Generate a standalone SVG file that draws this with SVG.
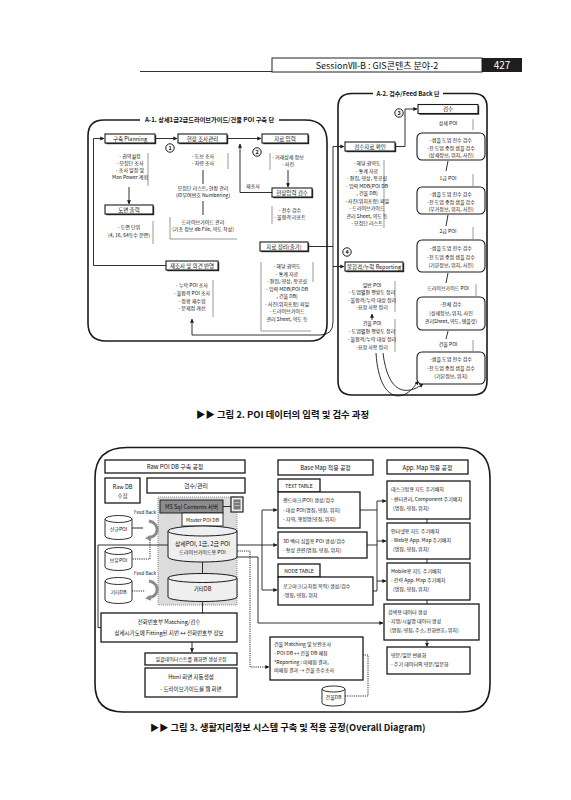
<svg xmlns="http://www.w3.org/2000/svg" width="571" height="800" viewBox="0 0 571 800">
<defs>
<style>
text{font-family:"Noto Sans CJK KR","Noto Sans",sans-serif;fill:#111}
.s45{font-size:4.6px}
.s5{font-size:5px}
.s55{font-size:5.5px}
.s6{font-size:5.9px}
.m{text-anchor:middle}
.b{font-weight:bold}
.w{fill:#fff}
.ln{fill:none;stroke:#1a1a1a;stroke-width:0.9}
.dt{fill:none;stroke:#1a1a1a;stroke-width:0.9;stroke-dasharray:1.2 1}
.br{fill:none;stroke:#555;stroke-width:0.6}
.bx{fill:#fff;stroke:#1a1a1a;stroke-width:1.1}
.bb{fill:#fff;stroke:#1a1a1a;stroke-width:1.3}
.rb{fill:#fff;stroke:#1a1a1a;stroke-width:1.1}
.sh{fill:#2a2a2a}
.fr{fill:none;stroke:#1a1a1a;stroke-width:1.6}
.cyl{fill:#fff;stroke:#1a1a1a;stroke-width:0.9}
.ci{fill:#fff;stroke:#1a1a1a;stroke-width:1}
.ga{fill:none;stroke:#8a8a8a;stroke-width:3}
</style>
<marker id="ar" viewBox="0 0 6 6" refX="5.5" refY="3" markerWidth="4.5" markerHeight="4.5" orient="auto"><path d="M0,0 L6,3 L0,6 z" fill="#1a1a1a"/></marker>
<marker id="gar" viewBox="0 0 6 6" refX="3" refY="3" markerWidth="2" markerHeight="2" orient="auto"><path d="M0,0 L6,3 L0,6 z" fill="#8a8a8a"/></marker>
</defs>
<rect width="571" height="800" fill="#fff"/>

<g id="header">
<line x1="140" y1="71.5" x2="272" y2="71.5" stroke="#333" stroke-width="1"/>
<rect x="272" y="58" width="210" height="14" fill="#fff" stroke="#222" stroke-width="1"/>
<text x="377" y="68.5" class="m" font-size="9">SessionⅦ-B : GIS콘텐츠 분야-2</text>
<rect x="482" y="58" width="40" height="14" fill="#1e1e1e"/>
<text x="502" y="69" class="m w" font-size="10">427</text>
</g>

<!-- Figure 2 -->
<g id="frame-a1">
<path class="fr" d="M279,120 H305 Q327,120 327,142 V324 Q327,341 310,341 H106 Q88,341 88,323 V136 Q88,120 104,120 H140"/>
<text x="209.5" y="122.3" class="m b" font-size="6.2">A-1. 상세1급2급드라이브가이드/건물 POI 구축 단</text>
</g>
<g id="frame-a2">
<path class="fr" d="M443,93.5 H473 Q487,93.5 487,107 V381 Q487,395 473,395 H352 Q338,395 338,381 V107 Q338,93.5 352,93.5 H373"/>
<text x="408" y="96" class="m b" font-size="6">A-2. 검수/Feed Back 단</text>
</g>

<g id="connectors-fig2">
<path class="ln" d="M166,265.5 H93.5 V138.5 H104" marker-end="url(#ar)"/>
<path class="ln" d="M155,138.5 H177" marker-end="url(#ar)"/>
<path class="ln" d="M227,138.5 H261" marker-end="url(#ar)"/>
<path class="ln" d="M129,187 V204" marker-end="url(#ar)"/>
<path class="ln" d="M203,170 V184"/>
<path class="ln" d="M203,201 V215"/>
<path class="ln" d="M288,170 V187" marker-end="url(#ar)"/>
<path class="ln" d="M272,192.5 H240 V144" marker-end="url(#ar)"/>
<path class="ln" d="M308,246.5 H333"/>
<path class="ln" d="M333,146.5 V322 Q333,335 320,335 H192 V319" marker-end="url(#ar)"/>
<path class="ln" d="M333,146.5 H344" marker-end="url(#ar)"/>
<path class="ln" d="M333,266.5 H344" marker-end="url(#ar)"/>
<path class="ln" d="M395,146.5 H405 V109 H417" marker-end="url(#ar)"/>
<path class="ln" d="M372,320 V314" marker-end="url(#ar)"/>
<path class="ln" d="M376,353 C379,403 404,405 418,381" marker-end="url(#ar)"/>
<path class="ln" d="M383,353 C388,394 406,396 423,384" marker-end="url(#ar)"/>
<path class="ln" d="M448,161 L446,171"/>
<path class="ln" d="M448,215 L446,226"/>
<path class="ln" d="M448,273 L446,283"/>
<path class="ln" d="M448,331 L446,339"/>
</g>

<g id="brackets-fig2">
<path class="br" d="M148,153 V186"/>
<path class="br" d="M153,221 V244"/>
<path class="br" d="M228,153 V169"/>
<path class="br" d="M170,217 V239 H237"/>
<path class="br" d="M270,153 V170"/>
<path class="br" d="M272,206 V224"/>
<path class="br" d="M261,262 V331 H311"/>
<path class="br" d="M313,262 V282"/>
<path class="br" d="M213,280 V317"/>
<path class="br" d="M384,160 V228"/>
<path class="br" d="M395,281 V312"/>
<path class="br" d="M395,319 V352"/>
<path class="br" d="M473,119 V130"/>
<path class="br" d="M473,174 V186"/>
<path class="br" d="M473,227 V239"/>
<path class="br" d="M476,284 V296"/>
<path class="br" d="M473,340 V351"/>
</g>

<g id="n-planning"><rect class="sh" x="106.2" y="135.2" width="50" height="9"/><rect class="bx" x="105" y="134" width="50" height="9"/><text class="s55 m" x="130" y="140.6">구축 Planning</text></g>
<g id="t-planning"><text class="s5 m" x="130" y="158">- 권역설정</text><text class="s5 m" x="130" y="165">- 모집단 조사</text><text class="s5 m" x="130" y="172">- 조사 일정 및</text><text class="s5 m" x="130" y="179">Man Power 계획</text></g>
<g id="n-map"><rect class="sh" x="106.2" y="206.2" width="48" height="9"/><rect class="bx" x="105" y="205" width="48" height="9"/><text class="s55 m" x="129" y="211.6">도면 출력</text></g>
<g id="t-map"><text class="s5 m" x="129" y="229">- 도면 단위</text><text class="s5 m" x="129" y="237">(4, 16, 64등수 분면)</text></g>
<g id="n-survey"><rect class="sh" x="179.2" y="135.2" width="49" height="9"/><rect class="bx" x="178" y="134" width="49" height="9"/><text class="s55 m" x="202.5" y="140.6">현장 조사관리</text></g>
<g id="t-survey"><text class="s5 m" x="203" y="158">- 도보 조사</text><text class="s5 m" x="203" y="165">- 차량 조사</text><text class="s5 m" x="203" y="190">모집단 리스트, 현장 관리</text><text class="s5 m" x="203" y="197">(ID부여번호 Numbering)</text><text class="s5 m" x="203" y="224">드라이브가이드 관리</text><text class="s5 m" x="203" y="231">(기초 정보 db File, 약도 작성)</text></g>
<g id="n-input"><rect class="sh" x="263.2" y="135.2" width="46" height="9"/><rect class="bx" x="262" y="134" width="46" height="9"/><text class="s55 m" x="285" y="140.6">자료 입력</text></g>
<g id="t-input"><text class="s5 m" x="288" y="159">- 거래상세 정보</text><text class="s5 m" x="288" y="166">- 사진</text></g>
<g id="n-check"><rect class="sh" x="273.2" y="189.2" width="40" height="9"/><rect class="bx" x="272" y="188" width="40" height="9"/><text class="s55 m" x="292" y="194.6">현장입력 검수</text></g>
<text class="s5 m" x="253" y="188">재조사</text>
<g id="t-check"><text class="s5 m" x="290" y="212">- 전수 검수</text><text class="s5 m" x="290" y="219">- 불합격 리포트</text></g>
<g id="n-arrange"><rect class="sh" x="261.2" y="243.2" width="48" height="9"/><rect class="bx" x="260" y="242" width="48" height="9"/><text class="s55 m" x="284" y="248.6">자료 정리(출가)</text></g>
<g id="t-arrange"><text class="s5 m" x="287" y="268">- 해당 권역도</text><text class="s5 m" x="287" y="275.5">- 통계 자료</text><text class="s5 m" x="287" y="283">- 편집, 영상, 항공샷</text><text class="s5 m" x="287" y="290.5">- 입력 MDB(POI DB</text><text class="s5 m" x="287" y="298">, 건물 DB)</text><text class="s5 m" x="287" y="305.5">- 사진(위치포함) 파일</text><text class="s5 m" x="287" y="313">- 드라이브가이드</text><text class="s5 m" x="287" y="320.5">관리 Sheet, 약도 등</text></g>
<g id="n-resurvey"><rect class="sh" x="167.2" y="262.2" width="52" height="9"/><rect class="bx" x="166" y="261" width="52" height="9"/><text class="s55 m" x="192" y="267.6">재조사 및 의견 반영</text></g>
<g id="t-resurvey"><text class="s5 m" x="192" y="287">- 누락 POI 조사</text><text class="s5 m" x="192" y="295">- 불합격 POI 조사</text><text class="s5 m" x="192" y="303">- 정확 재수립</text><text class="s5 m" x="192" y="310">- 문제점 개선</text></g>

<g id="c1"><circle class="ci" cx="170" cy="148" r="4.2"/><text class="s55 m b" x="170" y="150">1</text></g>
<g id="c2"><circle class="ci" cx="257" cy="152" r="4.2"/><text class="s55 m b" x="257" y="154">2</text></g>
<g id="c3"><circle class="ci" cx="399" cy="113" r="4.2"/><text class="s55 m b" x="399" y="115">3</text></g>
<g id="c4"><circle class="ci" cx="347" cy="252" r="4.2"/><text class="s55 m b" x="347" y="254">4</text></g>

<g id="n-review"><rect class="sh" x="346.2" y="143.2" width="50" height="9"/><rect class="bx" x="345" y="142" width="50" height="9"/><text class="s55 m" x="370" y="148.6">검수자료 확인</text></g>
<g id="t-review"><text class="s5 m" x="367" y="165">- 해당 권역도</text><text class="s5 m" x="367" y="172.5">- 통계 자료</text><text class="s5 m" x="367" y="180">- 편집, 영상, 항공샷</text><text class="s5 m" x="367" y="187.5">- 입력 MDB(POI DB</text><text class="s5 m" x="367" y="195">, 건물 DB)</text><text class="s5 m" x="367" y="202.5">- 사진(위치포함) 파일</text><text class="s5 m" x="367" y="210">- 드라이브가이드</text><text class="s5 m" x="367" y="217.5">관리 Sheet, 약도 등</text><text class="s5 m" x="367" y="225">- 모집단 리스트</text></g>
<g id="n-inspect"><rect class="sh" x="419.2" y="105.7" width="60" height="9"/><rect class="bx" x="418" y="104.5" width="60" height="9"/><text class="s55 m" x="448" y="111.1">검수</text></g>
<g id="n-report"><rect class="sh" x="346.2" y="263.2" width="58" height="9"/><rect class="bx" x="345" y="262" width="58" height="9"/><text class="s55 m" x="374" y="268.6">불합격/누락 Reporting</text></g>
<g id="t-report"><text class="s5 m" x="372" y="287">일반 POI</text><text class="s5 m" x="372" y="294">- 도엽별편 평방도 정리</text><text class="s5 m" x="372" y="301.5">- 불합격/누락 대상 정리</text><text class="s5 m" x="372" y="309">-요청 사항 정리</text><text class="s5 m" x="372" y="325">건물 POI</text><text class="s5 m" x="372" y="333">- 도엽별편 평방도 정리</text><text class="s5 m" x="372" y="341">- 불합격/누락 대상 정리</text><text class="s5 m" x="372" y="349">-요청 사항 정리</text></g>

<g id="r-detail"><text class="s5 m" x="448" y="124.5">상세 POI</text><rect class="rb" x="417" y="133" width="68" height="27" rx="5"/><text class="s5 m" x="451" y="142">-샘플 도엽 전수 검수</text><text class="s5 m" x="451" y="149.5">-전 도엽 중점 샘플 검수</text><text class="s5 m" x="451" y="157">(상세정보, 위치, 사진)</text></g>
<g id="r-1"><text class="s5 m" x="448" y="180">1급 POI</text><rect class="rb" x="417" y="187" width="68" height="27" rx="5"/><text class="s5 m" x="451" y="196">-샘플 도엽 전수 검수</text><text class="s5 m" x="451" y="203.5">-전 도엽 중점 샘플 검수</text><text class="s5 m" x="451" y="211">(부가정보, 위치, 사진)</text></g>
<g id="r-2"><text class="s5 m" x="448" y="233">2급 POI</text><rect class="rb" x="417" y="240" width="68" height="32" rx="5"/><text class="s5 m" x="451" y="250">-샘플 도엽 전수 검수</text><text class="s5 m" x="451" y="258.5">-전 도엽 중점 샘플 검수</text><text class="s5 m" x="451" y="267">(기본정보, 위치, 사진)</text></g>
<g id="r-drive"><text class="s5 m" x="448" y="290">드라이브가이드 POI</text><rect class="rb" x="417" y="297" width="68" height="33" rx="5"/><text class="s5 m" x="451" y="306">-전체 검수</text><text class="s5 m" x="451" y="315">(상세정보, 위치, 사진</text><text class="s5 m" x="451" y="323">관리Sheet, 약도, 템플릿)</text></g>
<g id="r-bldg"><text class="s5 m" x="448" y="345.5">건물 POI</text><rect class="rb" x="417" y="352" width="68" height="32" rx="5"/><text class="s5 m" x="451" y="361">-샘플 도엽 전수 검수</text><text class="s5 m" x="451" y="369.5">-전 도엽 중점 샘플 검수</text><text class="s5 m" x="451" y="378">(기본정보, 위치)</text></g>

<text id="cap2" x="196" y="418" class="b" font-size="9.4">▶▶ 그림 2. POI 데이터의 입력 및 검수 과정</text>

<!-- Figure 3 -->
<g id="frame3"><path class="fr" d="M127,447.5 H460 Q490,447.5 490,478 V684 Q490,712 462,712 H123 Q95,712 95,684 V478 Q95,447.5 127,447.5 Z"/></g>

<g id="gray-area"><rect x="158" y="497" width="79" height="108" fill="#dcdcdc" stroke="#777" stroke-width="0.8" stroke-dasharray="1 1"/></g>

<g id="connectors-fig3">
<path class="ln" d="M98,545 H168"/>
<path class="ln" d="M98,545 V627.5 H101"/>
<path class="ln" d="M223,506.5 H231"/>
<path class="ln" d="M202.5,562 V574"/>
<path class="ln" d="M202.5,601.5 V613"/>
<path class="ln" d="M132,528 H143"/>
<path class="dt" d="M150,540 V559 H132"/>
<path class="dt" d="M132,591 H145"/>
<path class="ln" d="M192,642 V652" marker-end="url(#ar)"/>
<path class="ln" d="M237,545 H277" marker-end="url(#ar)"/>
<path class="ln" d="M262,510 V590"/>
<path class="ln" d="M262,510 H277" marker-end="url(#ar)"/>
<path class="ln" d="M262,590 H277" marker-end="url(#ar)"/>
<path class="ln" d="M233,557 H258 V623 H383" marker-end="url(#ar)"/>
<path class="dt" d="M233,551 H250 V667 H269" marker-end="url(#ar)"/>
<path class="ln" d="M360,510 H377"/>
<path class="ln" d="M367,545 H377"/>
<path class="ln" d="M373,591 H377"/>
<path class="ln" d="M377,501 V591"/>
<path class="ln" d="M377,501 H386" marker-end="url(#ar)"/>
<path class="ln" d="M377,541 H386" marker-end="url(#ar)"/>
<path class="ln" d="M377,581 H386" marker-end="url(#ar)"/>
<path class="ln" d="M427,519 V523"/>
<path class="ln" d="M427,559 V563"/>
<path class="ln" d="M427,600 V604"/>
<path class="ln" d="M427,640 V646.5" marker-end="url(#ar)"/>
<path class="dt" d="M345,696 H368 V655 H363"/>
<path class="ga" d="M149,521 C160,523 160,537 148,538" marker-end="url(#gar)"/>
<path class="ga" d="M149,581 C160,583 160,597 148,598" marker-end="url(#gar)"/>
</g>

<g id="n-rawhead"><rect class="bb" x="105" y="460" width="140" height="13"/><text class="s6 m" x="175" y="468.8">Raw POI DB 구축 공정</text></g>
<g id="n-rawdb"><rect class="bb" x="105" y="478" width="35" height="25"/><text class="s55 m" x="122.5" y="488.5">Raw DB</text><text class="s55 m" x="122.5" y="497.5">수집</text></g>
<g id="n-manage"><rect class="bb" x="147" y="478" width="98" height="15"/><text class="s6 m" x="196" y="487.8">검수/관리</text></g>
<g id="n-mssql"><rect x="160" y="500" width="63" height="13" fill="#8c8c8c" stroke="#222" stroke-width="1"/><text class="s55 m" x="191.5" y="508.5">MS Sql Contents 서버</text></g>
<g id="n-server"><rect x="231" y="497" width="12" height="15" fill="#eee" stroke="#222" stroke-width="1.2"/><rect x="233.5" y="499.5" width="7" height="10" fill="#777"/><line x1="234.5" y1="502.5" x2="239.5" y2="502.5" stroke="#eee" stroke-width="0.6"/><line x1="234.5" y1="505.5" x2="239.5" y2="505.5" stroke="#eee" stroke-width="0.6"/></g>
<g id="n-master"><rect x="182" y="513" width="41" height="13" fill="#fff" stroke="#222" stroke-width="0.9"/><text class="s5 m" x="202.5" y="521.5">Master POI DB</text></g>
<g id="n-maindb"><path d="M168,531 V557 A34.5,5 0 0 0 237,557 V531" fill="#efefef" stroke="#1a1a1a" stroke-width="1"/><ellipse cx="202.5" cy="531" rx="34.5" ry="5" fill="#efefef" stroke="#1a1a1a" stroke-width="1"/><text class="s6 m" x="202.5" y="546">상세POI, 1급, 2급 POI</text><text class="s5 m" x="202.5" y="553.5">드라이브가이드용 POI</text></g>
<g id="n-etcdb"><path d="M168,578 V597 A34.5,4.5 0 0 0 237,597 V578" fill="#efefef" stroke="#1a1a1a" stroke-width="1"/><ellipse cx="202.5" cy="578" rx="34.5" ry="4.5" fill="#efefef" stroke="#1a1a1a" stroke-width="1"/><text class="s55 m" x="202.5" y="591">기타DB</text></g>
<g id="n-new"><path class="cyl" d="M105,519 V536 A13.5,3.5 0 0 0 132,536 V519"/><ellipse class="cyl" cx="118.5" cy="519" rx="13.5" ry="3.5"/><text class="s5 m" x="118.5" y="531">신규POI</text></g>
<g id="n-own"><path class="cyl" d="M105,551 V567 A13.5,3.5 0 0 0 132,567 V551"/><ellipse class="cyl" cx="118.5" cy="551" rx="13.5" ry="3.5"/><text class="s5 m" x="118.5" y="562">보유POI</text></g>
<g id="n-etc2"><path class="cyl" d="M105,581 V600 A13.5,3.5 0 0 0 132,600 V581"/><ellipse class="cyl" cx="118.5" cy="581" rx="13.5" ry="3.5"/><text class="s5 m" x="118.5" y="593.5">기타DB</text></g>
<text class="s45 m" x="145" y="514">Feed Back</text>
<text class="s45 m" x="145" y="575">Feed Back</text>
<g id="n-phone"><rect class="bb" x="101" y="613" width="136" height="29"/><text class="s55 m" x="169" y="623.5">전화번호부 Matching/검수</text><text class="s55 m" x="169" y="635">상세시가도에 Fitting된 지번 ↔ 전화번호부 정보</text></g>
<g id="n-batch"><rect class="bb" x="145" y="653" width="92" height="12"/><text class="s5 m" x="191" y="661.3">일괄데이터스트를 웹화면 생성공정</text></g>
<g id="n-html"><rect class="bb" x="145" y="668" width="92" height="29"/><text class="s55 m" x="191" y="679">Html 화면 자동생성</text><text class="s55 m" x="191" y="690.5">- 드라이브가이드를 웹 화면</text></g>

<g id="n-basehead"><rect class="bb" x="278" y="460" width="95" height="15"/><text class="s6 m" x="325.5" y="469.8">Base Map 적용 공정</text></g>
<g id="n-texttable"><rect class="bb" x="278" y="479" width="42" height="13"/><text class="s5 m" x="299" y="487.6">TEXT TABLE</text></g>
<g id="n-landmark"><rect class="bb" x="278" y="492" width="82" height="36"/><text class="s5" x="283" y="502">랜드마크(POI) 생성/검수</text><text class="s5" x="283" y="511.5">- 대상 POI(명칭, 영칭, 위치)</text><text class="s5" x="283" y="520.5">- 지역, 행정명(영칭, 위치)</text></g>
<g id="n-3d"><rect class="bb" x="278" y="532" width="89" height="26"/><text class="s5" x="283" y="542.5">3D 벡터 심볼용 POI 생성/검수</text><text class="s5" x="283" y="551.5">- 형상 관련(명칭, 영칭, 위치)</text></g>
<g id="n-nodetable"><rect class="bb" x="278" y="564" width="42" height="13"/><text class="s5 m" x="299" y="572.6">NODE TABLE</text></g>
<g id="n-logo"><rect class="bb" x="278" y="577" width="95" height="28"/><text class="s5" x="283" y="588">로고마크(교차점 목적) 생성/검수</text><text class="s5" x="283" y="597">-명칭, 영칭, 위치</text></g>

<g id="n-apphead"><rect class="bb" x="387" y="460" width="81" height="14"/><text class="s6 m" x="427.5" y="469.5">App. Map 적용 공정</text></g>
<g id="n-desktop"><rect class="bb" x="387" y="481" width="83" height="38"/><text class="s5" x="391" y="491">데스크탑용 지도 주기배치</text><text class="s5" x="391" y="500.5">- 센터관리, Component 주기배치</text><text class="s5" x="393" y="510">(명칭, 영칭, 위치)</text></g>
<g id="n-internet"><rect class="bb" x="387" y="523" width="83" height="36"/><text class="s5" x="391" y="533">인터넷용 지도 주기배치</text><text class="s5" x="391" y="542">- Web용 App. Map 주기배치</text><text class="s5" x="393" y="551">(명칭, 영칭, 위치)</text></g>
<g id="n-mobile"><rect class="bb" x="387" y="563" width="83" height="37"/><text class="s5" x="391" y="573">Mobile용 지도 주기배치</text><text class="s5" x="391" y="582">- 간략 App. Map 주기배치</text><text class="s5" x="393" y="591">(명칭, 영칭, 위치)</text></g>
<g id="n-search"><rect class="bb" x="384" y="604" width="95" height="36"/><text class="s5" x="388" y="614">검색용 데이터 생성</text><text class="s5" x="388" y="623">- 지명/시설명 데이터 생성</text><text class="s5" x="390" y="632">(명칭, 영칭, 주소, 전화번호, 위치)</text></g>
<g id="n-eng"><rect class="bb" x="387" y="647" width="83" height="27"/><text class="s5" x="391" y="657">영문/일문 변환화</text><text class="s5" x="391" y="666">- 주기 데이터의 영문/일문화</text></g>

<g id="n-bmatch"><rect class="bb" x="270" y="637" width="93" height="43"/><text class="s5" x="274" y="646">건물 Matching 및 보완조사</text><text class="s5" x="274" y="655">- POI DB ↔ 건물 DB 매칭</text><text class="s5" x="274" y="663.5">*Reporting : 미매칭 결과,</text><text class="s5" x="274" y="672">비매칭 결과 → 건물 층수조사</text></g>
<g id="n-bdb"><path class="cyl" d="M322,689 V703 A11.5,3 0 0 0 345,703 V689"/><ellipse class="cyl" cx="333.5" cy="689" rx="11.5" ry="3"/><text class="s5 m" x="333.5" y="699">건물DB</text></g>

<text id="cap3" x="150" y="731" class="b" font-size="9.2">▶▶ 그림 3. 생활지리정보 시스템 구축 및 적용 공정(Overall Diagram)</text>
</svg>
